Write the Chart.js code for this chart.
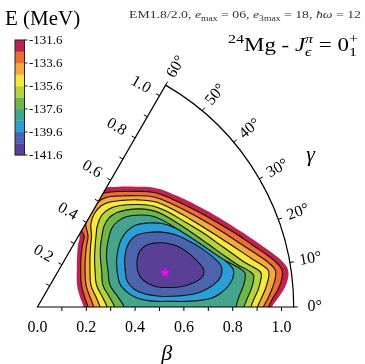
<!DOCTYPE html>
<html lang="en">
<head>
<meta charset="UTF-8">
<title>24Mg beta-gamma energy surface</title>
<script src="https://cdn.jsdelivr.net/npm/chart.js"></script>
<style>
    html, body { margin: 0; padding: 0; background: #fff; }
    #wrap { position: relative; width: 365px; height: 364px; }
</style>
</head>
<body>
<div id="wrap"><canvas id="pes"></canvas></div>
<script>
// contour lines of E(beta, gamma), plane coords x = beta cos(gamma), y = beta sin(gamma)
// open contours run below the gamma = 0 axis and get clipped there
const E131_6 = [[0.189,-0.020],[0.189,0],[0.174,0.041],[0.162,0.090],[0.161,0.148],[0.162,0.201],[0.166,0.254],[0.172,0.291],[0.150,0.340],[0.207,0.455],[0.256,0.486],[0.318,0.492],[0.400,0.493],[0.482,0.488],[0.564,0.459],[0.666,0.410],[0.756,0.359],[0.838,0.307],[0.916,0.254],[0.973,0.213],[1.006,0.184],[1.027,0.152],[1.025,0.111],[1.008,0.070],[0.986,0.037],[0.961,0],[0.961,-0.020]];
const E132_6 = [[0.207,-0.020],[0.207,0],[0.193,0.041],[0.180,0.090],[0.177,0.148],[0.178,0.201],[0.184,0.254],[0.191,0.291],[0.174,0.336],[0.223,0.439],[0.273,0.467],[0.330,0.473],[0.400,0.474],[0.477,0.469],[0.551,0.443],[0.654,0.393],[0.744,0.342],[0.809,0.303],[0.887,0.250],[0.941,0.213],[0.977,0.184],[1.002,0.152],[1.000,0.111],[0.986,0.072],[0.965,0.037],[0.947,0],[0.947,-0.020]];
const E133_6 = [[0.230,-0.020],[0.230,0],[0.215,0.041],[0.199,0.090],[0.195,0.148],[0.196,0.201],[0.201,0.250],[0.207,0.291],[0.199,0.348],[0.240,0.422],[0.281,0.449],[0.338,0.455],[0.408,0.456],[0.477,0.451],[0.543,0.426],[0.641,0.377],[0.732,0.324],[0.781,0.293],[0.859,0.242],[0.912,0.207],[0.949,0.180],[0.975,0.150],[0.973,0.111],[0.961,0.074],[0.945,0.037],[0.926,0],[0.926,-0.020]];
const E134_6 = [[0.256,-0.020],[0.256,0],[0.240,0.041],[0.219,0.090],[0.215,0.148],[0.215,0.201],[0.217,0.246],[0.221,0.291],[0.219,0.340],[0.232,0.381],[0.260,0.414],[0.297,0.430],[0.346,0.437],[0.412,0.439],[0.477,0.432],[0.535,0.410],[0.625,0.361],[0.711,0.307],[0.756,0.279],[0.830,0.230],[0.883,0.195],[0.920,0.172],[0.947,0.148],[0.945,0.111],[0.934,0.074],[0.918,0.037],[0.902,0],[0.902,-0.020]];
const E135_6 = [[0.285,-0.020],[0.285,0],[0.266,0.041],[0.242,0.090],[0.236,0.148],[0.234,0.201],[0.236,0.246],[0.240,0.291],[0.246,0.336],[0.264,0.377],[0.297,0.404],[0.338,0.416],[0.412,0.420],[0.473,0.414],[0.527,0.393],[0.609,0.346],[0.686,0.299],[0.732,0.266],[0.801,0.217],[0.850,0.182],[0.891,0.160],[0.916,0.139],[0.914,0.107],[0.904,0.070],[0.889,0.037],[0.875,0],[0.875,-0.020]];
const E136_6 = [[0.316,-0.020],[0.316,0],[0.295,0.041],[0.268,0.090],[0.263,0.148],[0.258,0.201],[0.258,0.246],[0.264,0.291],[0.273,0.332],[0.293,0.365],[0.326,0.387],[0.367,0.398],[0.420,0.402],[0.473,0.395],[0.518,0.377],[0.592,0.332],[0.658,0.287],[0.699,0.258],[0.773,0.205],[0.822,0.172],[0.863,0.150],[0.885,0.131],[0.883,0.098],[0.873,0.066],[0.859,0.033],[0.846,0],[0.846,-0.020]];
const E137_6 = [[0.355,-0.020],[0.355,0],[0.330,0.041],[0.297,0.090],[0.289,0.148],[0.283,0.201],[0.285,0.246],[0.293,0.287],[0.305,0.324],[0.330,0.352],[0.367,0.371],[0.420,0.377],[0.469,0.373],[0.510,0.357],[0.572,0.320],[0.633,0.275],[0.682,0.238],[0.748,0.201],[0.797,0.176],[0.830,0.158],[0.850,0.139],[0.850,0.111],[0.842,0.082],[0.830,0.053],[0.820,0.025],[0.814,0],[0.814,-0.020]];
// closed contours
const E138_6 = [[0.326,0.148],[0.324,0.193],[0.330,0.234],[0.342,0.275],[0.367,0.311],[0.404,0.336],[0.453,0.344],[0.510,0.342],[0.564,0.324],[0.625,0.287],[0.686,0.246],[0.740,0.209],[0.781,0.180],[0.803,0.152],[0.801,0.119],[0.785,0.090],[0.756,0.061],[0.715,0.037],[0.645,0.025],[0.543,0.023],[0.461,0.025],[0.408,0.037],[0.367,0.061],[0.338,0.094]];
const E139_6 = [[0.359,0.152],[0.357,0.193],[0.363,0.234],[0.379,0.270],[0.408,0.295],[0.453,0.305],[0.510,0.307],[0.568,0.295],[0.625,0.268],[0.678,0.236],[0.723,0.201],[0.748,0.176],[0.756,0.152],[0.750,0.123],[0.727,0.096],[0.691,0.072],[0.641,0.053],[0.576,0.045],[0.502,0.044],[0.441,0.053],[0.395,0.074],[0.367,0.107]];
const E140_6 = [[0.409,0.152],[0.408,0.193],[0.420,0.230],[0.448,0.254],[0.482,0.262],[0.523,0.262],[0.572,0.250],[0.617,0.223],[0.654,0.189],[0.678,0.160],[0.682,0.139],[0.670,0.117],[0.637,0.098],[0.592,0.084],[0.543,0.080],[0.494,0.082],[0.453,0.096],[0.424,0.119]];
const minimumXY = [0.523, 0.141];

const betaMax = 1.05;
const betaTicks = [0.1, 0.2, 0.3, 0.4, 0.5, 0.6, 0.7, 0.8, 0.9, 1.0];
const betaLabels = [0.0, 0.2, 0.4, 0.6, 0.8, 1.0];
const gammaLabels = [0, 10, 20, 30, 40, 50, 60];
const cbLevels = [-141.6, -140.6, -139.6, -138.6, -137.6, -136.6, -135.6, -134.6, -133.6, -132.6, -131.6];
const cbTickLabels = [-131.6, -133.6, -135.6, -137.6, -139.6, -141.6];
// one colour per band, lowest energy first
const bandColors = ['#5a3f97', '#4b64ad', '#2b9ed6', '#44a48c', '#6db64c', '#b5d340', '#f5ea3c', '#f5a83e', '#ef6b2f', '#c0224e'];

const serif = '"Liberation Serif", "DejaVu Serif", serif';

function toPts(arr, closed) {
    const pts = arr.map(p => ({ x: p[0], y: p[1] }));
    if (closed) pts.push({ x: arr[0][0], y: arr[0][1] });
    return pts;
}

function starImage(size, color) {
    const c = document.createElement('canvas');
    c.width = c.height = size;
    const g = c.getContext('2d');
    g.fillStyle = color;
    g.beginPath();
    for (let i = 0; i < 10; i++) {
        const r = i % 2 ? size * 0.2 : size * 0.5;
        const a = -Math.PI / 2 + i * Math.PI / 5;
        g.lineTo(size / 2 + r * Math.cos(a), size / 2 + r * Math.sin(a));
    }
    g.closePath();
    g.fill();
    return c;
}

// small rich text helper: {t, i: italic, k: 'sup'|'sub', keep: stack next part on top}
// text is stretched horizontally to span `width` ending at xRight
function drawRich(ctx, parts, xRight, y, size, width) {
    let x = 0, hold = 0;
    const laid = [];
    parts.forEach(p => {
        const s = p.k ? size * 0.7 : size;
        const font = (p.i ? 'italic ' : '') + s + 'px ' + serif;
        ctx.font = font;
        const w = ctx.measureText(p.t).width;
        const dy = p.k === 'sup' ? -size * 0.4 : p.k === 'sub' ? size * 0.25 : 0;
        laid.push({ t: p.t, font, x, dy });
        if (p.keep) hold = Math.max(hold, w);
        else { x += Math.max(hold, w); hold = 0; }
    });
    ctx.save();
    ctx.translate(xRight - width, y);
    ctx.scale(width / x, 1);
    ctx.textAlign = 'left';
    ctx.textBaseline = 'alphabetic';
    laid.forEach(l => { ctx.font = l.font; ctx.fillText(l.t, l.x, l.dy); });
    ctx.restore();
}

const contourSets = [
    [E140_6, true], [E139_6, true], [E138_6, true], [E137_6, false], [E136_6, false],
    [E135_6, false], [E134_6, false], [E133_6, false], [E132_6, false], [E131_6, false]
];

const datasets = [{
    data: [{ x: minimumXY[0], y: minimumXY[1] }],
    showLine: false,
    pointStyle: starImage(11, '#ff00ff'),
    pointRadius: 5
}];
contourSets.forEach(([arr, closed], i) => {
    datasets.push({
        data: toPts(arr, closed),
        fill: 'shape',
        backgroundColor: bandColors[i],
        borderColor: '#111',
        borderWidth: i === 9 ? 0 : 1.1,
        tension: 0.4,
        pointRadius: 0
    });
});

function polar(chart, b, gDeg) {
    const g = gDeg * Math.PI / 180;
    return [chart.scales.x.getPixelForValue(b * Math.cos(g)), chart.scales.y.getPixelForValue(b * Math.sin(g))];
}

const polarAxes = {
    id: 'polarAxes',
    beforeDatasetsDraw(chart) {
        const ctx = chart.ctx;
        const [x0, y0] = polar(chart, 0, 0);
        const R = polar(chart, betaMax, 0)[0] - x0;
        ctx.save();
        ctx.beginPath();
        ctx.moveTo(x0, y0);
        ctx.lineTo(x0 + R, y0);
        ctx.arc(x0, y0, R, 0, -Math.PI / 3, true);
        ctx.closePath();
        ctx.clip();
    },
    afterDatasetsDraw(chart) {
        chart.ctx.restore();
    },
    afterDraw(chart) {
        const ctx = chart.ctx;
        const [x0, y0] = polar(chart, 0, 0);
        const R = polar(chart, betaMax, 0)[0] - x0;
        ctx.save();
        ctx.strokeStyle = '#000';
        ctx.fillStyle = '#000';
        ctx.lineWidth = 1.2;

        // frame: gamma = 0 axis, arc, gamma = 60 axis
        ctx.beginPath();
        ctx.moveTo(x0, y0);
        ctx.lineTo(x0 + R, y0);
        ctx.arc(x0, y0, R, 0, -Math.PI / 3, true);
        ctx.closePath();
        ctx.stroke();

        const nx = -Math.sin(Math.PI / 3), ny = -Math.cos(Math.PI / 3);
        ctx.lineWidth = 1;
        ctx.beginPath();
        betaTicks.forEach(b => {
            const [px, py] = polar(chart, b, 0);
            ctx.moveTo(px, py); ctx.lineTo(px, py + 4);
            const [qx, qy] = polar(chart, b, 60);
            ctx.moveTo(qx, qy); ctx.lineTo(qx + 4 * nx, qy + 4 * ny);
        });
        gammaLabels.forEach(g => {
            const a = g * Math.PI / 180;
            const [px, py] = polar(chart, betaMax, g);
            ctx.moveTo(px, py); ctx.lineTo(px + 4 * Math.cos(a), py - 4 * Math.sin(a));
        });
        ctx.stroke();

        ctx.font = '16px ' + serif;
        ctx.textAlign = 'center';
        ctx.textBaseline = 'middle';
        betaLabels.forEach(b => {
            const [px] = polar(chart, b, 0);
            ctx.fillText(b.toFixed(1), px, y0 + 21);
            if (b > 0) {
                const [qx, qy] = polar(chart, b, 60);
                ctx.save();
                ctx.translate(qx + 21.6 * nx, qy + 21.6 * ny);
                ctx.rotate(Math.PI / 6);
                ctx.fillText(b.toFixed(1), 0, 0);
                ctx.restore();
            }
        });
        gammaLabels.forEach(g => {
            const a = g * Math.PI / 180;
            const [px, py] = polar(chart, betaMax, g);
            ctx.save();
            ctx.translate(px + 21 * Math.cos(a), py - 21 * Math.sin(a));
            ctx.rotate(-a);
            ctx.fillText(g + '\u00b0', 0, 0);
            ctx.restore();
        });

        // axis titles
        ctx.font = 'italic 22px ' + serif;
        ctx.fillText('\u03b2', polar(chart, 0.53, 0)[0], y0 + 47);
        const [gx, gy] = polar(chart, 1.28, 29);
        ctx.fillText('\u03b3', gx, gy);

        // colour bar
        const cbL = 15, cbR = 24.5, cbT = 40, cbB = 155;
        const bandH = (cbB - cbT) / bandColors.length;
        bandColors.forEach((c, i) => {
            ctx.fillStyle = c;
            ctx.fillRect(cbL, cbB - (i + 1) * bandH, cbR - cbL, bandH + 0.3);
        });
        ctx.strokeStyle = '#222';
        ctx.lineWidth = 1;
        ctx.strokeRect(cbL, cbT, cbR - cbL, cbB - cbT);
        ctx.fillStyle = '#000';
        ctx.font = '13px ' + serif;
        ctx.textAlign = 'left';
        const eMin = cbLevels[0], eMax = cbLevels[cbLevels.length - 1];
        ctx.beginPath();
        cbTickLabels.forEach(e => {
            const y = cbB - (e - eMin) / (eMax - eMin) * (cbB - cbT);
            ctx.moveTo(cbR, y); ctx.lineTo(cbR + 3, y);
            ctx.fillText(e.toFixed(1), 29, y + 1);
        });
        ctx.stroke();

        ctx.font = '21px ' + serif;
        ctx.textBaseline = 'alphabetic';
        ctx.fillText('E (MeV)', 5, 25);

        ctx.fillStyle = '#333';
        drawRich(ctx, [
            { t: 'EM1.8/2.0, ' }, { t: 'e', i: true }, { t: 'max', k: 'sub' }, { t: ' = 06, ' },
            { t: 'e', i: true }, { t: '3max', k: 'sub' }, { t: ' = 18, ' },
            { t: '\u0127\u03c9', i: true }, { t: ' = 12' }
        ], 361, 18, 11, 232);
        ctx.fillStyle = '#000';
        drawRich(ctx, [
            { t: '24', k: 'sup' }, { t: 'Mg - ' }, { t: 'J', i: true },
            { t: '\u03c0', i: true, k: 'sup', keep: true }, { t: '\u03f5', i: true, k: 'sub' },
            { t: ' = 0' }, { t: '+', k: 'sup', keep: true }, { t: '1', k: 'sub' }
        ], 358, 51, 19, 130);
        ctx.restore();
    }
};

new Chart(document.getElementById('pes'), {
    type: 'line',
    data: { datasets },
    options: {
        responsive: true,
        maintainAspectRatio: false,
        animation: false,
        layout: { padding: { left: 37.5, right: 71.3, top: 85.1, bottom: 57 } },
        scales: {
            x: { type: 'linear', min: 0, max: betaMax, display: false },
            y: { type: 'linear', min: 0, max: betaMax * Math.sin(Math.PI / 3), display: false }
        },
        plugins: { legend: { display: false }, tooltip: { enabled: false } }
    },
    plugins: [polarAxes]
});
</script>
</body>
</html>
